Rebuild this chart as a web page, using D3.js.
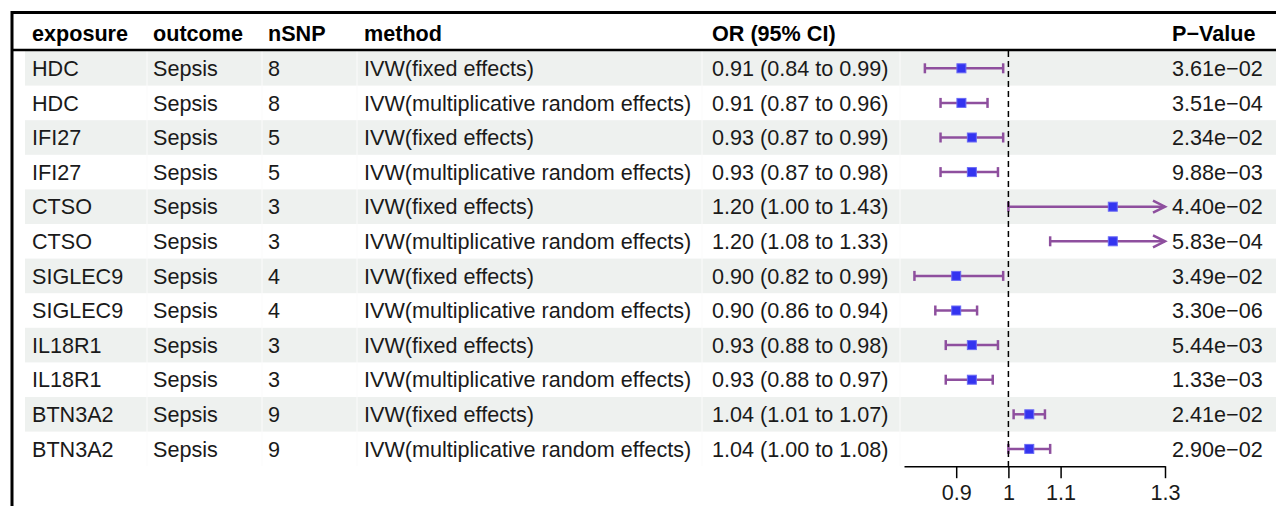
<!DOCTYPE html>
<html>
<head>
<meta charset="utf-8">
<script src="https://cdn.jsdelivr.net/npm/d3@7"></script>
<style>
  body { margin: 0; background: #fff; }
  svg text { font-family: "Liberation Sans", Arial, Helvetica, sans-serif; }
</style>
</head>
<body>
<svg id="svg"></svg>
<script>
// table data
var exposure = ["HDC", "HDC", "IFI27", "IFI27", "CTSO", "CTSO", "SIGLEC9", "SIGLEC9", "IL18R1", "IL18R1", "BTN3A2", "BTN3A2"];
var outcome = ["Sepsis", "Sepsis", "Sepsis", "Sepsis", "Sepsis", "Sepsis", "Sepsis", "Sepsis", "Sepsis", "Sepsis", "Sepsis", "Sepsis"];
var nsnp = [8, 8, 5, 5, 3, 3, 4, 4, 3, 3, 9, 9];
var method = ["IVW(fixed effects)", "IVW(multiplicative random effects)",
  "IVW(fixed effects)", "IVW(multiplicative random effects)",
  "IVW(fixed effects)", "IVW(multiplicative random effects)",
  "IVW(fixed effects)", "IVW(multiplicative random effects)",
  "IVW(fixed effects)", "IVW(multiplicative random effects)",
  "IVW(fixed effects)", "IVW(multiplicative random effects)"];
var or = [0.91, 0.91, 0.93, 0.93, 1.20, 1.20, 0.90, 0.90, 0.93, 0.93, 1.04, 1.04];
var lower = [0.84, 0.87, 0.87, 0.87, 1.00, 1.08, 0.82, 0.86, 0.88, 0.88, 1.01, 1.00];
var upper = [0.99, 0.96, 0.99, 0.98, 1.43, 1.33, 0.99, 0.94, 0.98, 0.97, 1.07, 1.08];
var pvalue = ["3.61e\u221202", "3.51e\u221204", "2.34e\u221202", "9.88e\u221203", "4.40e\u221202", "5.83e\u221204",
  "3.49e\u221202", "3.30e\u221206", "5.44e\u221203", "1.33e\u221203", "2.41e\u221202", "2.90e\u221202"];
var headers = ["exposure", "outcome", "nSNP", "method", "OR (95% CI)", "P\u2212Value"];
var xTicks = [0.9, 1, 1.1, 1.3];
var xLimits = [0.8, 1.3];

var width = 1276, height = 506;
var fontSize = 21.6;
var rowTop = 51, rowH = 34.6;
var colX = [32, 153, 268, 364, 712, 1172];
var cellBreaks = [147, 262, 357, 702, 900];

var svg = d3.select("#svg").attr("width", width).attr("height", height);

var f2 = d3.format(".2f");
var rows = exposure.map(function (d, i) {
  return {
    cells: [d, outcome[i], String(nsnp[i]), method[i],
      f2(or[i]) + " (" + f2(lower[i]) + " to " + f2(upper[i]) + ")", pvalue[i]],
    or: or[i], lo: lower[i], hi: upper[i]
  };
});

var y = d3.scaleBand().domain(d3.range(rows.length))
  .range([rowTop, rowTop + rowH * rows.length]);
var x = d3.scaleLinear().domain(xLimits).range([904, 1165]);

// stripes
svg.selectAll("rect.stripe")
  .data(rows.filter(function (d, i) { return i % 2 === 0; }))
  .enter()
  .append("rect")
  .attr("class", "stripe")
  .attr("x", 25)
  .attr("y", function (d) { return y(rows.indexOf(d)); })
  .attr("width", width - 25)
  .attr("height", y.bandwidth())
  .attr("fill", "#eef1ef");

// faint cell borders
cellBreaks.forEach(function (cx) {
  svg.append("line")
    .attr("x1", cx).attr("x2", cx)
    .attr("y1", rowTop).attr("y2", rowTop + rowH * rows.length)
    .attr("stroke", "#fbfbfb").attr("stroke-width", 1);
});

// header
svg.selectAll("text.head")
  .data(headers)
  .enter()
  .append("text")
  .attr("class", "head")
  .attr("x", function (d, i) { return colX[i]; })
  .attr("y", 33)
  .attr("dy", "0.36em")
  .attr("font-size", fontSize)
  .attr("font-weight", "bold")
  .attr("fill", "#000")
  .text(function (d) { return d; });

// body text
var g = svg.selectAll("g.row")
  .data(rows)
  .enter()
  .append("g")
  .attr("class", "row")
  .attr("transform", function (d, i) { return "translate(0," + (y(i) + y.bandwidth() / 2) + ")"; });

g.selectAll("text")
  .data(function (d) { return d.cells; })
  .enter()
  .append("text")
  .attr("x", function (d, i) { return colX[i]; })
  .attr("dy", "0.36em")
  .attr("font-size", fontSize)
  .attr("fill", "#1a1a1a")
  .text(function (d) { return d; });

// reference line at 1
svg.append("line")
  .attr("x1", x(1)).attr("x2", x(1))
  .attr("y1", rowTop).attr("y2", rowTop + rowH * rows.length)
  .attr("stroke", "#000")
  .attr("stroke-width", 1.5)
  .attr("stroke-dasharray", "6,4");

// CI lines
var ciColor = "#8e4f9e";
g.append("line")
  .attr("x1", function (d) { return x(Math.max(d.lo, xLimits[0])); })
  .attr("x2", function (d) { return x(Math.min(d.hi, xLimits[1])); })
  .attr("stroke", ciColor)
  .attr("stroke-width", 2.5);

// left caps
g.append("line")
  .attr("x1", function (d) { return x(d.lo); })
  .attr("x2", function (d) { return x(d.lo); })
  .attr("y1", -5).attr("y2", 5)
  .attr("stroke", ciColor)
  .attr("stroke-width", 2.5);

// right caps or arrows when out of range
g.each(function (d) {
  var sel = d3.select(this);
  if (d.hi > xLimits[1]) {
    var tip = x(xLimits[1]);
    sel.append("path")
      .attr("d", "M" + (tip - 12) + ",-6L" + tip + ",0L" + (tip - 12) + ",6")
      .attr("fill", "none")
      .attr("stroke", ciColor)
      .attr("stroke-width", 2.5);
  } else {
    sel.append("line")
      .attr("x1", x(d.hi)).attr("x2", x(d.hi))
      .attr("y1", -5).attr("y2", 5)
      .attr("stroke", ciColor)
      .attr("stroke-width", 2.5);
  }
});

// point estimates
g.append("rect")
  .attr("x", function (d) { return x(d.or) - 4.5; })
  .attr("y", -4.5)
  .attr("width", 9)
  .attr("height", 9)
  .attr("fill", "#3434f0")
  .attr("stroke", "#6a6af5")
  .attr("stroke-width", 1);

// x axis
var axisY = rowTop + rowH * rows.length;
var axis = svg.append("g")
  .attr("transform", "translate(0," + axisY + ")")
  .call(d3.axisBottom(x).tickValues(xTicks).tickFormat(d3.format(""))
    .tickSizeInner(12).tickSizeOuter(0).tickPadding(6));
axis.select(".domain").attr("stroke", "#000").attr("stroke-width", 1.5);
axis.selectAll(".tick line").attr("stroke", "#000").attr("stroke-width", 1.5);
axis.selectAll(".tick text")
  .attr("font-size", fontSize)
  .attr("font-family", "Liberation Sans, Arial, sans-serif")
  .attr("fill", "#1a1a1a");

// borders
svg.append("line")
  .attr("x1", 11).attr("x2", width)
  .attr("y1", 12.5).attr("y2", 12.5)
  .attr("stroke", "#000").attr("stroke-width", 3);
svg.append("line")
  .attr("x1", 12).attr("x2", 12)
  .attr("y1", 11).attr("y2", height)
  .attr("stroke", "#000").attr("stroke-width", 3);
svg.append("line")
  .attr("x1", 11).attr("x2", width)
  .attr("y1", 50).attr("y2", 50)
  .attr("stroke", "#000").attr("stroke-width", 2.5);
</script>
</body>
</html>
